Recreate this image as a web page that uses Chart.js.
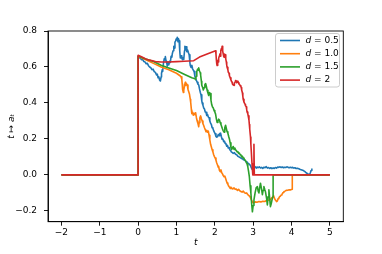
<!DOCTYPE html>
<html><head><meta charset="utf-8">
<script src="https://cdn.jsdelivr.net/npm/chart.js@4/dist/chart.umd.min.js"></script>
<style>html,body{margin:0;padding:0;background:#fff}canvas{display:block}</style>
</head><body>
<canvas id="c" width="382" height="254"></canvas>
<script>
const xTickValues = [-2, -1, 0, 1, 2, 3, 4, 5];
const xTickLabels = ['\u22122', '\u22121', '0', '1', '2', '3', '4', '5'];
const yTickValues = [-0.2, 0, 0.2, 0.4, 0.6, 0.8];
const yTickLabels = ['\u22120.2', '0.0', '0.2', '0.4', '0.6', '0.8'];
const seriesNames = ['0.5', '1.0', '1.5', '2'];

// [t, a_t] pairs
const blueD05 = [[-2,0],[0,0],[0,0.66],[0.03,0.652],[0.06,0.648],[0.09,0.640],[0.12,0.642],[0.15,0.630],[0.18,0.628],[0.21,0.618],[0.24,0.620],[0.27,0.607],[0.30,0.600],[0.33,0.596],[0.36,0.585],[0.39,0.588],[0.42,0.574],[0.45,0.570],[0.48,0.556],[0.50,0.560],[0.52,0.540],[0.54,0.545],[0.56,0.528],[0.58,0.522],[0.60,0.545],[0.61,0.565],[0.63,0.585],[0.64,0.575],[0.66,0.620],[0.68,0.645],[0.70,0.640],[0.71,0.658],[0.73,0.630],[0.75,0.618],[0.76,0.605],[0.78,0.628],[0.80,0.612],[0.82,0.632],[0.84,0.625],[0.86,0.660],[0.88,0.655],[0.89,0.672],[0.91,0.690],[0.93,0.715],[0.94,0.705],[0.96,0.738],[0.98,0.745],[0.99,0.755],[1.01,0.750],[1.02,0.765],[1.04,0.740],[1.05,0.758],[1.07,0.745],[1.08,0.725],[1.09,0.690],[1.10,0.650],[1.12,0.662],[1.14,0.648],[1.16,0.640],[1.18,0.652],[1.19,0.642],[1.21,0.690],[1.22,0.715],[1.24,0.700],[1.25,0.712],[1.27,0.685],[1.29,0.695],[1.31,0.680],[1.33,0.668],[1.35,0.625],[1.36,0.608],[1.38,0.598],[1.40,0.610],[1.42,0.590],[1.44,0.582],[1.46,0.575],[1.48,0.548],[1.50,0.535],[1.52,0.525],[1.54,0.515],[1.56,0.505],[1.58,0.500],[1.60,0.478],[1.62,0.460],[1.64,0.445],[1.66,0.412],[1.67,0.400],[1.69,0.388],[1.71,0.372],[1.73,0.366],[1.75,0.350],[1.77,0.348],[1.79,0.330],[1.81,0.336],[1.83,0.322],[1.85,0.318],[1.87,0.300],[1.89,0.288],[1.91,0.280],[1.93,0.262],[1.95,0.258],[1.97,0.246],[1.99,0.236],[2.01,0.228],[2.03,0.214],[2.05,0.210],[2.07,0.212],[2.09,0.225],[2.11,0.218],[2.13,0.230],[2.15,0.232],[2.17,0.214],[2.19,0.198],[2.21,0.200],[2.23,0.185],[2.25,0.188],[2.27,0.175],[2.29,0.172],[2.31,0.160],[2.33,0.164],[2.35,0.150],[2.37,0.152],[2.39,0.140],[2.41,0.136],[2.43,0.128],[2.45,0.125],[2.48,0.120],[2.51,0.124],[2.54,0.115],[2.57,0.112],[2.60,0.104],[2.63,0.100],[2.66,0.096],[2.69,0.092],[2.72,0.090],[2.75,0.084],[2.78,0.082],[2.81,0.075],[2.84,0.072],[2.87,0.064],[2.90,0.060],[2.93,0.052],[2.95,0.040],[2.97,0.032],[2.99,0.028],[3.01,0.024],[3.03,0.040],[3.05,0.046],[3.08,0.038],[3.10,0.044],[3.13,0.040],[3.16,0.045],[3.19,0.039],[3.22,0.042],[3.25,0.036],[3.28,0.043],[3.31,0.040],[3.34,0.046],[3.37,0.038],[3.40,0.041],[3.43,0.036],[3.46,0.040],[3.49,0.035],[3.52,0.039],[3.55,0.036],[3.58,0.041],[3.61,0.038],[3.64,0.044],[3.67,0.042],[3.70,0.045],[3.73,0.041],[3.76,0.044],[3.79,0.040],[3.82,0.043],[3.85,0.041],[3.88,0.045],[3.91,0.042],[3.94,0.040],[3.97,0.043],[4.00,0.040],[4.03,0.042],[4.06,0.038],[4.09,0.040],[4.12,0.036],[4.15,0.037],[4.19,0.034],[4.23,0.030],[4.27,0.027],[4.31,0.024],[4.35,0.018],[4.38,0.012],[4.41,0.008],[4.44,0.004],[4.47,0.002],[4.49,0.012],[4.51,0.025],[4.53,0.036]];

const orangeD10 = [[-2,0],[0,0],[0,0.66],[0.2,0.640],[0.4,0.620],[0.6,0.600],[0.8,0.585],[1.0,0.565],[1.10,0.550],[1.12,0.545],[1.14,0.530],[1.15,0.505],[1.16,0.475],[1.18,0.458],[1.19,0.470],[1.21,0.495],[1.23,0.515],[1.24,0.498],[1.26,0.508],[1.28,0.500],[1.30,0.475],[1.32,0.462],[1.34,0.448],[1.36,0.420],[1.37,0.405],[1.39,0.360],[1.40,0.340],[1.42,0.348],[1.44,0.332],[1.46,0.342],[1.48,0.335],[1.50,0.345],[1.52,0.318],[1.54,0.300],[1.56,0.285],[1.58,0.268],[1.59,0.290],[1.61,0.318],[1.63,0.328],[1.65,0.312],[1.67,0.300],[1.69,0.285],[1.71,0.275],[1.73,0.262],[1.75,0.252],[1.77,0.240],[1.79,0.248],[1.81,0.238],[1.83,0.244],[1.85,0.220],[1.87,0.195],[1.89,0.170],[1.91,0.155],[1.93,0.140],[1.95,0.128],[1.97,0.112],[1.99,0.102],[2.01,0.094],[2.03,0.082],[2.05,0.066],[2.07,0.055],[2.09,0.042],[2.10,0.048],[2.12,0.025],[2.14,0.018],[2.16,0.028],[2.18,0.012],[2.20,0.006],[2.22,-0.004],[2.24,-0.010],[2.26,-0.006],[2.28,-0.018],[2.30,-0.032],[2.32,-0.045],[2.34,-0.052],[2.36,-0.062],[2.38,-0.068],[2.40,-0.075],[2.42,-0.068],[2.44,-0.074],[2.47,-0.078],[2.50,-0.072],[2.53,-0.080],[2.56,-0.078],[2.59,-0.086],[2.62,-0.080],[2.65,-0.088],[2.68,-0.092],[2.71,-0.096],[2.74,-0.090],[2.77,-0.098],[2.80,-0.102],[2.83,-0.100],[2.86,-0.110],[2.89,-0.115],[2.92,-0.122],[2.94,-0.132],[2.96,-0.142],[2.98,-0.150],[3.00,-0.155],[3.05,-0.150],[3.10,-0.152],[3.15,-0.148],[3.20,-0.150],[3.25,-0.146],[3.30,-0.148],[3.35,-0.142],[3.40,-0.140],[3.45,-0.138],[3.48,-0.128],[3.50,-0.125],[3.52,-0.118],[3.54,-0.122],[3.56,-0.132],[3.58,-0.140],[3.61,-0.148],[3.63,-0.145],[3.65,-0.132],[3.67,-0.128],[3.69,-0.120],[3.71,-0.118],[3.73,-0.112],[3.75,-0.108],[3.78,-0.098],[3.80,-0.093],[3.83,-0.090],[3.86,-0.086],[3.90,-0.085],[3.94,-0.082],[3.98,-0.083],[4.02,-0.080],[4.02,0],[5.0,0]];

const greenD15 = [[-2,0],[0,0],[0,0.66],[0.2,0.645],[0.4,0.630],[0.6,0.610],[0.8,0.595],[1.0,0.580],[1.2,0.560],[1.4,0.540],[1.48,0.535],[1.50,0.530],[1.51,0.548],[1.53,0.575],[1.55,0.588],[1.57,0.582],[1.58,0.595],[1.60,0.578],[1.62,0.568],[1.63,0.555],[1.65,0.520],[1.66,0.498],[1.68,0.488],[1.70,0.472],[1.72,0.485],[1.74,0.502],[1.76,0.508],[1.78,0.492],[1.80,0.470],[1.82,0.455],[1.84,0.442],[1.86,0.458],[1.88,0.452],[1.90,0.415],[1.92,0.390],[1.94,0.378],[1.96,0.372],[1.98,0.358],[2.00,0.350],[2.02,0.338],[2.04,0.312],[2.06,0.292],[2.08,0.298],[2.10,0.310],[2.12,0.305],[2.14,0.290],[2.16,0.280],[2.18,0.268],[2.20,0.255],[2.22,0.245],[2.24,0.238],[2.26,0.262],[2.28,0.276],[2.30,0.258],[2.32,0.240],[2.34,0.232],[2.36,0.215],[2.38,0.200],[2.40,0.178],[2.42,0.155],[2.44,0.142],[2.46,0.150],[2.48,0.158],[2.50,0.142],[2.52,0.150],[2.54,0.140],[2.56,0.135],[2.58,0.128],[2.60,0.130],[2.62,0.120],[2.64,0.122],[2.66,0.112],[2.68,0.110],[2.70,0.100],[2.72,0.104],[2.74,0.094],[2.76,0.092],[2.78,0.084],[2.80,0.080],[2.82,0.070],[2.84,0.062],[2.86,0.045],[2.88,0.020],[2.90,-0.010],[2.92,-0.060],[2.94,-0.100],[2.96,-0.160],[2.98,-0.205],[3.00,-0.170],[3.02,-0.139],[3.05,-0.100],[3.08,-0.070],[3.11,-0.065],[3.13,-0.090],[3.15,-0.100],[3.17,-0.070],[3.19,-0.046],[3.22,-0.080],[3.24,-0.110],[3.26,-0.085],[3.28,-0.065],[3.30,-0.080],[3.32,-0.093],[3.35,-0.130],[3.37,-0.167],[3.39,-0.120],[3.41,-0.083],[3.43,-0.130],[3.45,-0.176],[3.47,-0.160],[3.50,-0.130],[3.52,-0.120],[3.52,0],[5.0,0]];

const redD2 = [[-2,0],[0,0],[0,0.665],[0.1,0.655],[0.2,0.645],[0.3,0.638],[0.45,0.630],[0.6,0.628],[0.8,0.628],[1.0,0.630],[1.2,0.632],[1.45,0.635],[1.6,0.655],[1.8,0.672],[2.02,0.690],[2.03,0.672],[2.04,0.640],[2.05,0.618],[2.06,0.608],[2.07,0.625],[2.08,0.635],[2.09,0.628],[2.10,0.648],[2.12,0.662],[2.13,0.672],[2.14,0.660],[2.15,0.668],[2.16,0.690],[2.17,0.702],[2.18,0.695],[2.19,0.715],[2.20,0.700],[2.21,0.688],[2.22,0.672],[2.23,0.660],[2.24,0.655],[2.25,0.668],[2.26,0.672],[2.27,0.662],[2.28,0.668],[2.29,0.645],[2.30,0.628],[2.31,0.610],[2.32,0.598],[2.34,0.585],[2.35,0.572],[2.37,0.565],[2.38,0.552],[2.40,0.540],[2.42,0.528],[2.43,0.522],[2.45,0.515],[2.46,0.505],[2.48,0.500],[2.50,0.498],[2.51,0.508],[2.53,0.518],[2.54,0.525],[2.56,0.522],[2.57,0.512],[2.59,0.518],[2.60,0.522],[2.62,0.512],[2.63,0.505],[2.65,0.502],[2.66,0.495],[2.68,0.492],[2.69,0.485],[2.70,0.472],[2.72,0.455],[2.73,0.438],[2.74,0.420],[2.76,0.405],[2.77,0.400],[2.79,0.392],[2.80,0.385],[2.82,0.378],[2.83,0.365],[2.84,0.350],[2.86,0.340],[2.87,0.328],[2.89,0.305],[2.90,0.280],[2.91,0.255],[2.93,0.210],[2.94,0.170],[2.95,0.135],[2.97,0.060],[2.99,0.000],[3.01,0.000],[3.02,0.170],[3.03,0.000],[5.0,0.000]];

const seriesData = [blueD05, orangeD10, greenD15, redD2];
const colors = ['#1f77b4', '#ff7f0e', '#2ca02c', '#d62728'];
const FONT = 'DejaVu Sans';

const framePlugin = {
  id: 'frame',
  afterDatasetsDraw(chart) {
    const {ctx, chartArea: a} = chart;
    ctx.save();
    ctx.strokeStyle = '#000';
    ctx.lineWidth = 0.9;
    ctx.strokeRect(a.left, a.top, a.right - a.left, a.bottom - a.top);
    ctx.restore();
  }
};

const legendPlugin = {
  id: 'mplLegend',
  afterDraw(chart) {
    const ctx = chart.ctx;
    const bx = 275.5, by = 33.5, bw = 64, bh = 53.5, r = 2.5;
    ctx.save();
    ctx.beginPath();
    ctx.moveTo(bx + r, by);
    ctx.lineTo(bx + bw - r, by); ctx.quadraticCurveTo(bx + bw, by, bx + bw, by + r);
    ctx.lineTo(bx + bw, by + bh - r); ctx.quadraticCurveTo(bx + bw, by + bh, bx + bw - r, by + bh);
    ctx.lineTo(bx + r, by + bh); ctx.quadraticCurveTo(bx, by + bh, bx, by + bh - r);
    ctx.lineTo(bx, by + r); ctx.quadraticCurveTo(bx, by, bx + r, by);
    ctx.closePath();
    ctx.fillStyle = 'rgba(255,255,255,0.8)';
    ctx.fill();
    ctx.strokeStyle = '#cccccc';
    ctx.lineWidth = 1;
    ctx.stroke();
    chart.data.datasets.forEach((ds, i) => {
      const y = by + 7 + i * 13.2;
      ctx.strokeStyle = ds.borderColor;
      ctx.lineWidth = 1.6;
      ctx.beginPath();
      ctx.moveTo(bx + 4.5, y);
      ctx.lineTo(bx + 24.5, y);
      ctx.stroke();
      ctx.fillStyle = '#000';
      ctx.textBaseline = 'middle';
      ctx.textAlign = 'left';
      let x = bx + 30;
      ctx.font = 'italic 9px ' + FONT;
      ctx.fillText('d', x, y);
      x += ctx.measureText('d').width;
      ctx.font = '9px ' + FONT;
      ctx.fillText(' = ' + seriesNames[i], x, y);
    });
    ctx.restore();
  }
};

new Chart(document.getElementById('c'), {
  type: 'line',
  data: {
    datasets: seriesData.map((s, i) => ({
      label: 'd = ' + seriesNames[i],
      data: s.map(p => ({x: p[0], y: p[1]})),
      borderColor: colors[i],
      backgroundColor: colors[i],
      borderWidth: 1.6,
      pointRadius: 0,
      tension: 0,
      fill: false,
      borderJoinStyle: 'round',
      order: 3 - i
    }))
  },
  options: {
    responsive: false,
    animation: false,
    devicePixelRatio: 1,
    layout: {padding: {left: 0, top: 31, right: 38.7, bottom: 0}},
    plugins: {legend: {display: false}, tooltip: {enabled: false}},
    scales: {
      x: {
        type: 'linear',
        min: -2.35, max: 5.35,
        afterBuildTicks: s => { s.ticks = xTickValues.map(v => ({value: v})); },
        afterFit: s => { s.height = 32.3; },
        ticks: {
          callback: (v, i) => xTickLabels[i],
          font: {family: FONT, size: 9},
          color: '#000', padding: 2, maxRotation: 0, autoSkip: false
        },
        grid: {display: true, drawOnChartArea: false, drawTicks: true, tickLength: 4, tickColor: '#000', tickWidth: 0.9},
        border: {display: true, color: '#000', width: 0.9},
        title: {display: true, text: 't', color: '#000', font: {family: FONT, size: 9, style: 'italic'}, padding: {top: 0, bottom: 6}}
      },
      y: {
        type: 'linear',
        min: -0.26, max: 0.8,
        afterBuildTicks: s => { s.ticks = yTickValues.map(v => ({value: v})); },
        afterFit: s => { s.width = 48; },
        ticks: {
          callback: (v, i) => yTickLabels[i],
          font: {family: FONT, size: 9},
          color: '#000', padding: 7, autoSkip: false
        },
        grid: {display: true, drawOnChartArea: false, drawTicks: true, tickLength: 4, tickColor: '#000', tickWidth: 0.9},
        border: {display: true, color: '#000', width: 0.9},
        title: {display: true, text: 't \u21a6 a\u209c', color: '#000', font: {family: FONT, size: 9, style: 'italic'}, padding: {top: 6, bottom: 0}}
      }
    }
  },
  plugins: [framePlugin, legendPlugin]
});
</script>
</body></html>
